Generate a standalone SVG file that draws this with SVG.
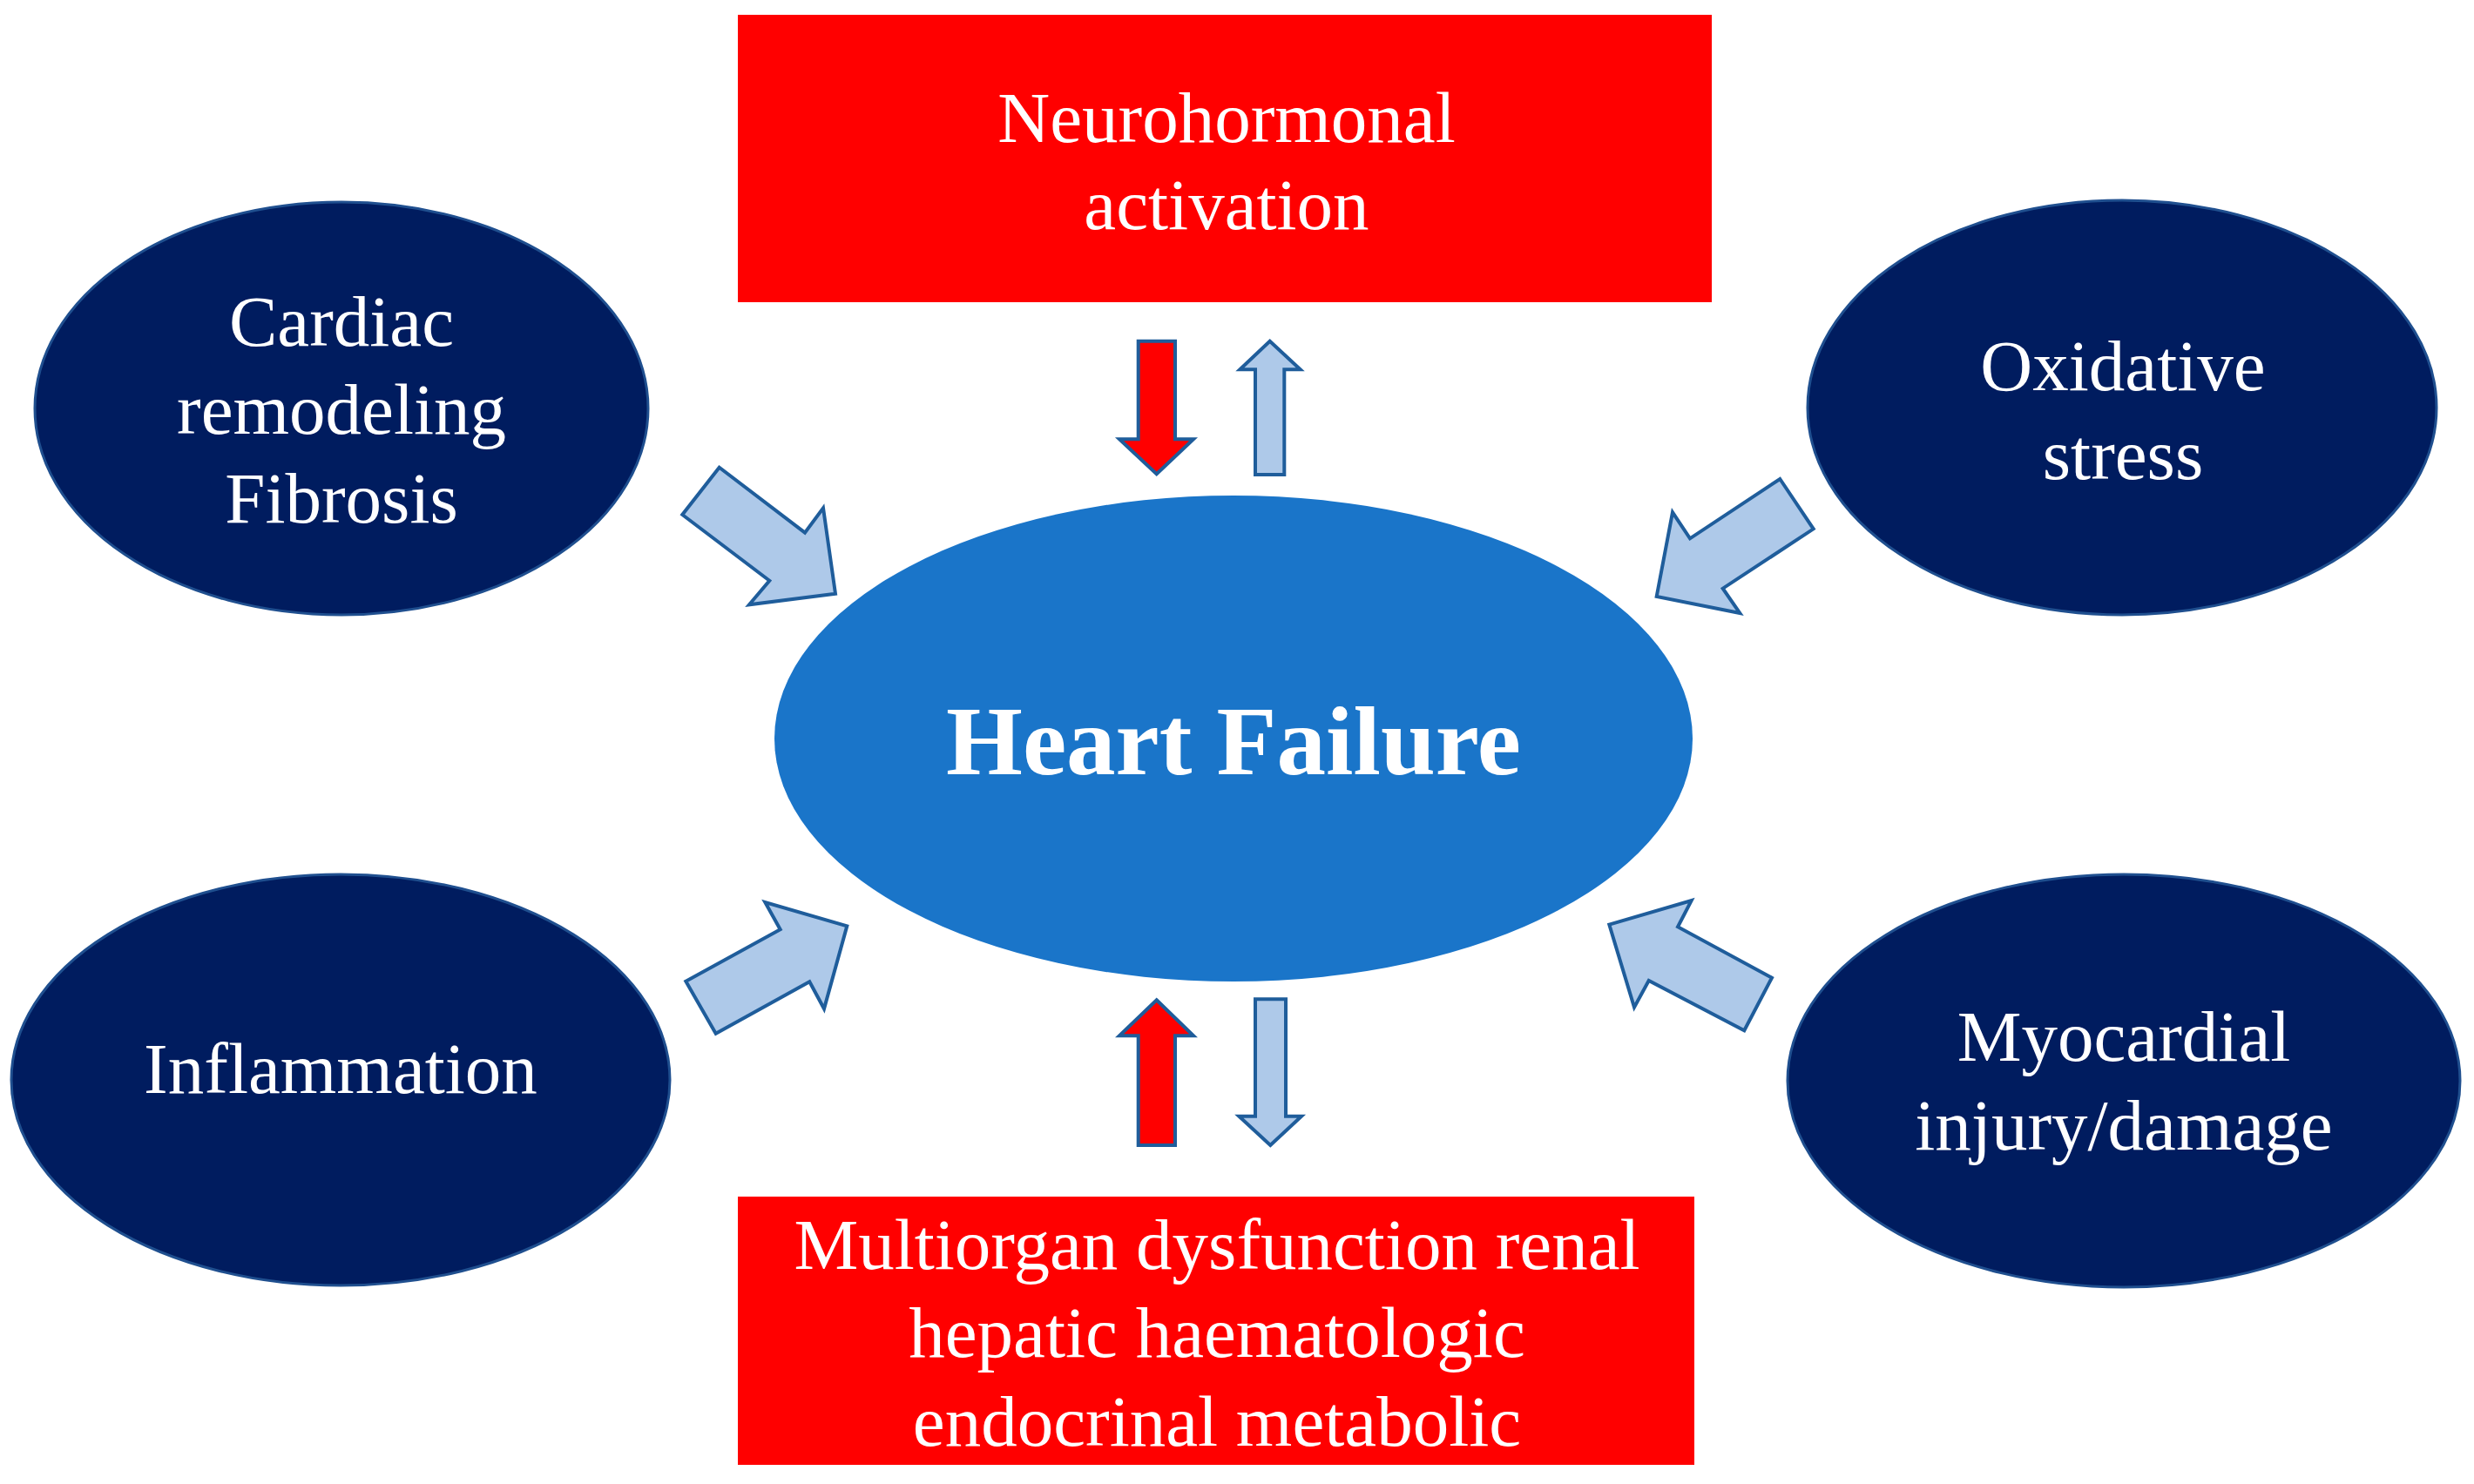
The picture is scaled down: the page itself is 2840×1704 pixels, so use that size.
<svg xmlns="http://www.w3.org/2000/svg" width="2840" height="1704" viewBox="0 0 2840 1704">
<style>
.bg{fill:#ffffff}
.box{fill:#ff0000}
.oval{fill:#001c5f;stroke:#1f4f8f;stroke-width:3}
.center{fill:#1a75c9}
.txt{font-family:"Liberation Serif","Times New Roman",serif;font-size:83px;fill:#ffffff;text-anchor:middle}
.big{font-family:"Liberation Serif","Times New Roman",serif;font-size:113px;font-weight:bold;fill:#ffffff;text-anchor:middle}
.blue{fill:#aec9e9;stroke:#1f5d9b;stroke-width:4;stroke-linejoin:miter}
.red{fill:#ff0000;stroke:#1f5d9b;stroke-width:4;stroke-linejoin:miter}
</style>
<rect class="bg" x="0" y="0" width="2840" height="1704"/>

<g id="neurohormonal">
<rect class="box" x="847" y="17" width="1118" height="330"/>
<text class="txt" x="1408" y="163">Neurohormonal</text>
<text class="txt" x="1408" y="263">activation</text>
</g>

<g id="multiorgan">
<rect class="box" x="847" y="1374" width="1098" height="308"/>
<text class="txt" x="1397" y="1457">Multiorgan dysfunction renal</text>
<text class="txt" x="1397" y="1558">hepatic haematologic</text>
<text class="txt" x="1397" y="1660">endocrinal metabolic</text>
</g>

<g id="cardiac">
<ellipse class="oval" cx="392" cy="469" rx="352" ry="237"/>
<text class="txt" x="392" y="397">Cardiac</text>
<text class="txt" x="392" y="498">remodeling</text>
<text class="txt" x="392" y="600">Fibrosis</text>
</g>

<g id="oxidative">
<ellipse class="oval" cx="2436" cy="468" rx="361" ry="238"/>
<text class="txt" x="2437" y="448">Oxidative</text>
<text class="txt" x="2437" y="550">stress</text>
</g>

<g id="inflammation">
<ellipse class="oval" cx="391" cy="1240" rx="378" ry="236"/>
<text class="txt" x="391" y="1255">Inflammation</text>
</g>

<g id="myocardial">
<ellipse class="oval" cx="2438" cy="1241" rx="386" ry="237"/>
<text class="txt" x="2438" y="1218">Myocardial</text>
<text class="txt" x="2438" y="1320">injury/damage</text>
</g>

<g id="heart-failure">
<ellipse class="center" cx="1416" cy="848" rx="527" ry="279"/>
<text class="big" x="1416" y="889">Heart Failure</text>
</g>

<g id="connectors">
<polygon class="blue" points="825.7,536.7 783.3,591 883.3,666.7 860,694.3 959,681.7 945,583.3 924,611.7"/>
<polygon class="blue" points="2043.3,550 2081.7,607.3 1977.7,675.7 1997.3,704 1901.7,685 1920,588.3 1940,618.3"/>
<polygon class="blue" points="787.3,1126.7 821.7,1186.7 929.3,1127.3 946,1158.3 972.3,1063.3 878.3,1036 895.7,1067.3"/>
<polygon class="blue" points="1847.3,1061.7 1941.7,1034 1926,1064.3 2034,1122.7 2002.3,1183.3 1892.7,1126 1876,1156.7"/>
<polygon class="red" points="1306.7,391.7 1349,391.7 1349,504.3 1370,504.3 1327.7,544.3 1285,504.3 1306.7,504.3"/>
<polygon class="blue" points="1457.7,391.7 1492.7,424.3 1474.3,424.3 1474.3,545 1441,545 1441,424.3 1423.3,424.3"/>
<polygon class="red" points="1327.7,1148.3 1370,1189.3 1349,1189.3 1349,1315 1306.7,1315 1306.7,1189.3 1285,1189.3"/>
<polygon class="blue" points="1441,1147.3 1476,1147.3 1476,1281.7 1494,1281.7 1458.3,1315 1422.3,1281.7 1441,1281.7"/>
</g>
</svg>
